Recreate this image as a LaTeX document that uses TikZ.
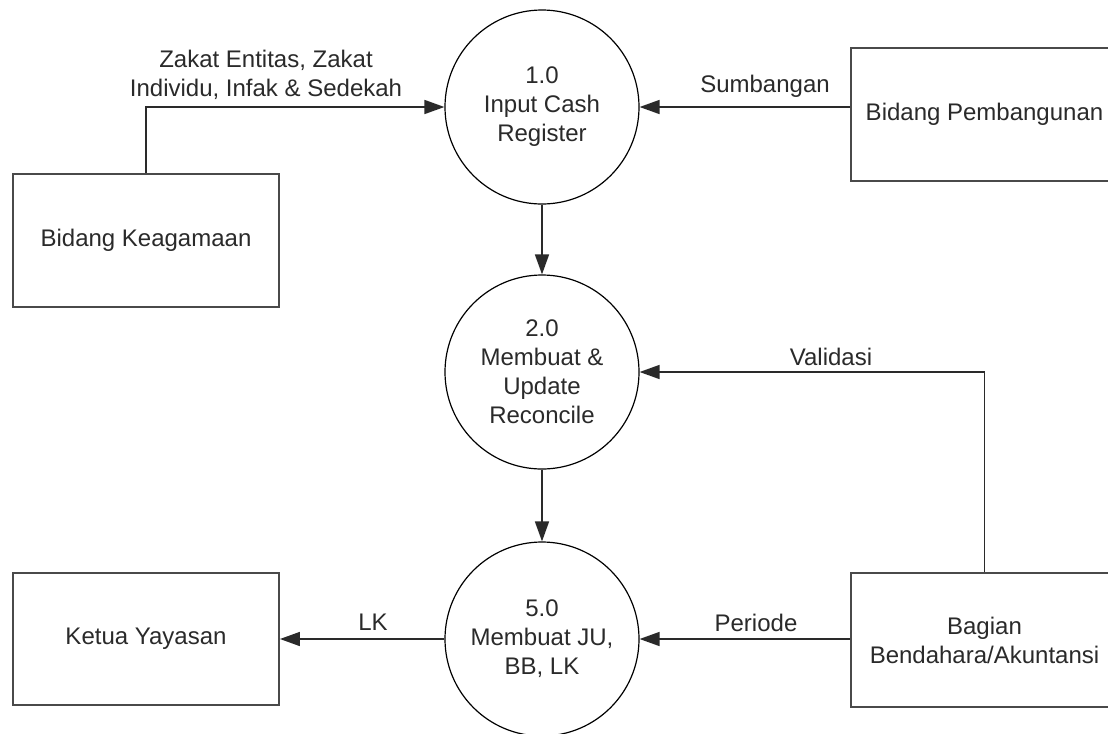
\documentclass[tikz,border=0pt]{standalone}
\usepackage{fontspec}
\setmainfont{Liberation Sans}
\usetikzlibrary{arrows.meta}
\definecolor{ink}{HTML}{2A2A2A}
\definecolor{edge}{HTML}{4A4A4A}
\begin{document}
\begin{tikzpicture}[x=0.75pt,y=-0.75pt,
  txt/.style={font=\fontsize{18pt}{21.75pt}\selectfont, text=ink},
  proc/.style={txt, circle, draw=black, line width=0.9pt, minimum size=145.5pt,
    inner sep=0pt, align=center, fill=white},
  ent/.style={txt, rectangle, draw=edge, line width=1.4pt, inner sep=0pt,
    align=center, minimum width=200pt},
  flow/.style={draw=ink, line width=1.2pt,
    -{Triangle[length=15pt,width=10.5pt]}},
  lbl/.style={txt, align=center, inner sep=0pt}]
\clip (0,0) rectangle (1108,733);
\fill[white] (0,0) rectangle (1108,733);

% processes
\node[proc] (c1) at (542,107) {1.0\\Input Cash\\Register};
\node[proc] (c2) at (542,372) {2.0\\Membuat \&\\Update\\Reconcile};
\node[proc] (c3) at (542,639) {5.0\\Membuat JU,\\BB, LK};

% external entities
\node[ent, minimum width=199.5pt, minimum height=99.75pt] (keag) at (146,240.5) {Bidang Keagamaan};
\node[ent, minimum width=200.25pt, minimum height=99.75pt] (pemb) at (984.5,114.5) {Bidang Pembangunan};
\node[ent, minimum width=200.25pt, minimum height=100.5pt] (bag) at (984.5,640) {Bagian\\Bendahara/Akuntansi};
\node[ent, minimum width=199.5pt, minimum height=99pt] (ketua) at (146,639) {Ketua Yayasan};

% data flows
\draw[flow] (keag.north) |- (c1.west);
\draw[flow] (pemb.west |- c1.east) -- (c1.east);
\draw[flow] (c1.south) -- (c2.north);
\draw[flow] (c2.south) -- (c3.north);
\draw[flow] (bag.north) |- (c2.east);
\draw[flow] (bag.west |- c3.east) -- (c3.east);
\draw[flow] (c3.west) -- (ketua.east);

% flow labels
\node[lbl] (lzakat) at (266,75) {Zakat Entitas, Zakat\\Individu, Infak \& Sedekah};
\node[lbl] (lsumb) at (765,86) {Sumbangan};
\node[lbl] (lval) at (831,357) {Validasi};
\node[lbl] (lper) at (756,623) {Periode};
\node[lbl] (llk) at (373,622) {LK};
\end{tikzpicture}
\end{document}
